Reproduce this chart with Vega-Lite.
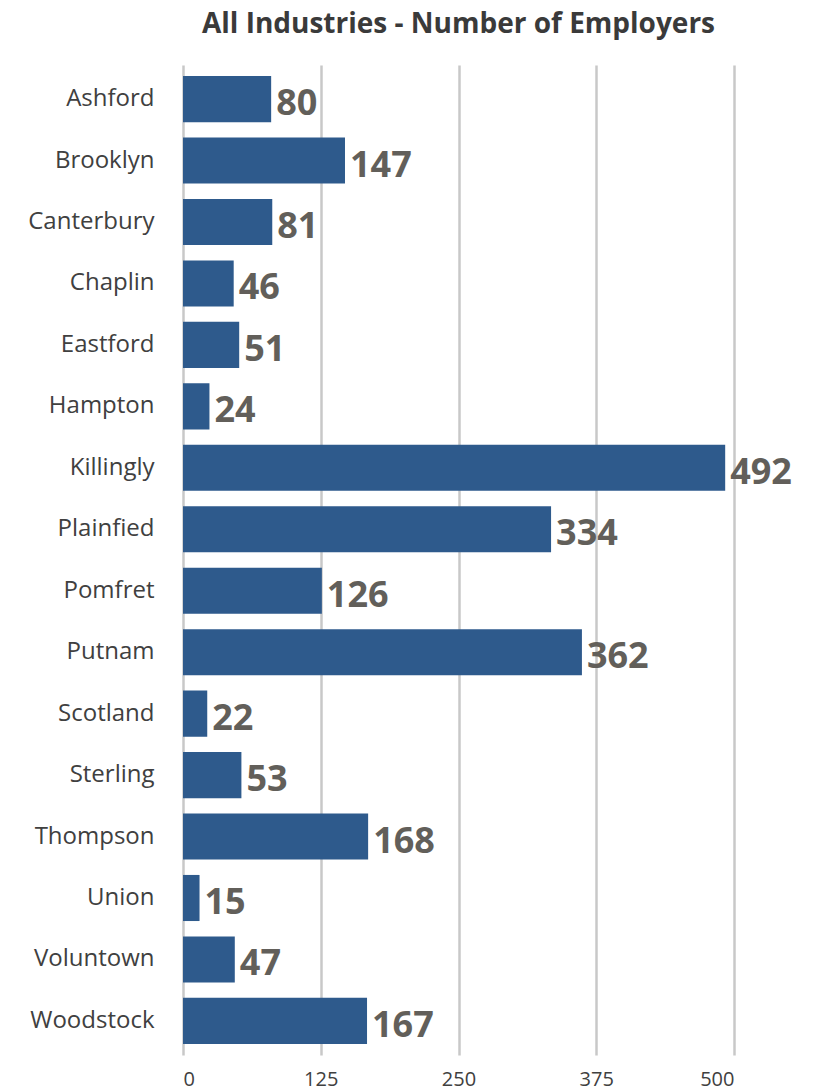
{
  "$schema": "https://vega.github.io/schema/vega-lite/v6.json",
  "autosize": {"type": "none"},
  "padding": {"left": 183, "top": 65, "right": 88, "bottom": 36},
  "width": 551,
  "height": 990,
  "background": "white",
  "title": {
    "text": "All Industries - Number of Employers",
    "font": "Open Sans",
    "fontSize": 28,
    "fontWeight": "bold",
    "color": "#3a3a3a",
    "anchor": "middle",
    "offset": 26
  },
  "data": {
    "values": [
      {"town": "Ashford", "employers": 80},
      {"town": "Brooklyn", "employers": 147},
      {"town": "Canterbury", "employers": 81},
      {"town": "Chaplin", "employers": 46},
      {"town": "Eastford", "employers": 51},
      {"town": "Hampton", "employers": 24},
      {"town": "Killingly", "employers": 492},
      {"town": "Plainfied", "employers": 334},
      {"town": "Pomfret", "employers": 126},
      {"town": "Putnam", "employers": 362},
      {"town": "Scotland", "employers": 22},
      {"town": "Sterling", "employers": 53},
      {"town": "Thompson", "employers": 168},
      {"town": "Union", "employers": 15},
      {"town": "Voluntown", "employers": 47},
      {"town": "Woodstock", "employers": 167}
    ]
  },
  "encoding": {
    "y": {
      "field": "town",
      "type": "nominal",
      "sort": null,
      "scale": {"paddingInner": 0.25, "paddingOuter": 0.18},
      "axis": {
        "title": null,
        "domain": false,
        "ticks": false,
        "grid": false,
        "labelFont": "Open Sans",
        "labelFontSize": 24,
        "labelColor": "#404040",
        "labelPadding": 29
      }
    },
    "x": {
      "field": "employers",
      "type": "quantitative",
      "scale": {"domain": [0, 500], "nice": false},
      "axis": {
        "title": null,
        "values": [0, 125, 250, 375, 500],
        "domain": false,
        "ticks": false,
        "grid": true,
        "gridColor": "#c8c8c8",
        "gridWidth": 2.5,
        "labelFont": "Open Sans",
        "labelFontSize": 20,
        "labelColor": "#404040",
        "labelPadding": 14
      }
    }
  },
  "layer": [
    {"mark": {"type": "bar", "color": "#2e5a8c", "x": 1}},
    {
      "mark": {
        "type": "text",
        "align": "left",
        "baseline": "middle",
        "dx": 5,
        "dy": 5,
        "font": "Open Sans",
        "fontSize": 36,
        "fontWeight": "bold",
        "color": "#625f5a"
      },
      "encoding": {"text": {"field": "employers", "type": "quantitative"}}
    }
  ],
  "config": {"view": {"stroke": null}}
}
